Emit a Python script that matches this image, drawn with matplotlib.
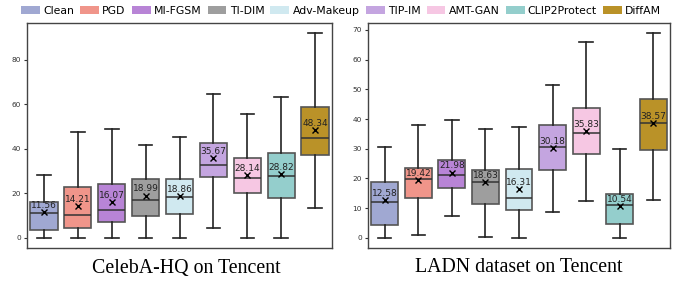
import matplotlib
matplotlib.use('Agg')
from matplotlib import pyplot as plt
from matplotlib.patches import Patch
from matplotlib.ticker import MultipleLocator

methods = ['Clean', 'PGD', 'MI-FGSM', 'TI-DIM', 'Adv-Makeup', 'TIP-IM', 'AMT-GAN', 'CLIP2Protect', 'DiffAM']
colors = ['#a0a8d2', '#f0958a', '#b884d6', '#9e9e9e', '#d0e9f0', '#c4a5e0', '#f6c7e3', '#94cecc', '#ba9228']

# CelebA-HQ on Tencent
celeba_lo = [0, 0, 0, 0, 0, 4.4, 0, 0, 13.4]
celeba_q1 = [3.5, 4.6, 7.1, 9.6, 10.6, 27.1, 20.2, 18.0, 37.2]
celeba_med = [11.2, 10.3, 12.4, 16.8, 18.3, 32.6, 26.7, 27.6, 44.7]
celeba_q3 = [16.2, 22.6, 24.2, 26.4, 26.4, 42.8, 35.8, 38.3, 58.8]
celeba_hi = [28.0, 47.7, 48.7, 41.6, 45.3, 64.6, 55.6, 63.1, 91.9]
celeba_mean = [11.56, 14.21, 16.07, 18.99, 18.86, 35.67, 28.14, 28.82, 48.34]

# LADN dataset on Tencent
ladn_lo = [0, 1.1, 7.2, 0.2, 0, 8.6, 12.5, 0, 12.8]
ladn_q1 = [4.4, 13.5, 16.6, 11.3, 9.4, 22.7, 28.1, 4.8, 29.5]
ladn_med = [12.1, 19.8, 21.3, 18.7, 13.3, 30.5, 35.4, 11.1, 38.5]
ladn_q3 = [18.9, 23.4, 26.1, 22.9, 23.3, 38.0, 43.7, 14.6, 46.9]
ladn_hi = [30.7, 37.9, 39.8, 36.7, 37.2, 51.6, 66.1, 29.8, 68.9]
ladn_mean = [12.58, 19.42, 21.98, 18.63, 16.31, 30.18, 35.83, 10.54, 38.57]


def draw(ax, lo, q1, med, q3, hi, mean, step):
    stats = []
    for i in range(len(methods)):
        stats.append({'whislo': lo[i], 'q1': q1[i], 'med': med[i], 'q3': q3[i],
                      'whishi': hi[i], 'mean': mean[i], 'fliers': []})
    bp = ax.bxp(stats, widths=0.8, patch_artist=True, showmeans=True,
                boxprops=dict(edgecolor='#555555', linewidth=1.2),
                medianprops=dict(color='#333333', linewidth=1.1),
                whiskerprops=dict(color='#222222', linewidth=1.2),
                capprops=dict(color='#222222', linewidth=1.2),
                meanprops=dict(marker='x', markeredgecolor='black', markersize=5, markeredgewidth=1))
    for box, c in zip(bp['boxes'], colors):
        box.set_facecolor(c)
    for i, m in enumerate(mean):
        ax.annotate(f'{m:.2f}', (i + 1, m), xytext=(0, 1.5), textcoords='offset points',
                    ha='center', va='bottom', fontsize=6.5, color='#222222')
    ax.set_xticks([])
    ax.yaxis.set_major_locator(MultipleLocator(step))
    ax.tick_params(axis='y', labelsize=5.3, colors='#333333', length=2.5, width=0.8, pad=2)
    for s in ax.spines.values():
        s.set_color('#444444')
        s.set_linewidth(1)


fig = plt.figure(figsize=(6.81, 2.82), dpi=100)
ax1 = fig.add_axes([27 / 681, 34 / 282, 305 / 681, 225 / 282])
ax2 = fig.add_axes([368 / 681, 34 / 282, 302 / 681, 225 / 282])

draw(ax1, celeba_lo, celeba_q1, celeba_med, celeba_q3, celeba_hi, celeba_mean, 20)
draw(ax2, ladn_lo, ladn_q1, ladn_med, ladn_q3, ladn_hi, ladn_mean, 10)

fig.text(186 / 681, 1 - 268 / 282, 'CelebA-HQ on Tencent', ha='center', va='center',
         family='Liberation Serif', fontsize=14.3)
fig.text(519 / 681, 1 - 268 / 282, 'LADN dataset on Tencent', ha='center', va='center',
         family='Liberation Serif', fontsize=14.3)

handles = [Patch(facecolor=c, label=m) for m, c in zip(methods, colors)]
fig.legend(handles=handles, loc='center left', bbox_to_anchor=(21 / 681, 1 - 11 / 282),
           ncol=9, frameon=False, fontsize=7.8, handlelength=1.75, handleheight=0.8,
           handletextpad=0.3, columnspacing=0.55, borderaxespad=0, borderpad=0)

fig.savefig('out.png', dpi=100)
